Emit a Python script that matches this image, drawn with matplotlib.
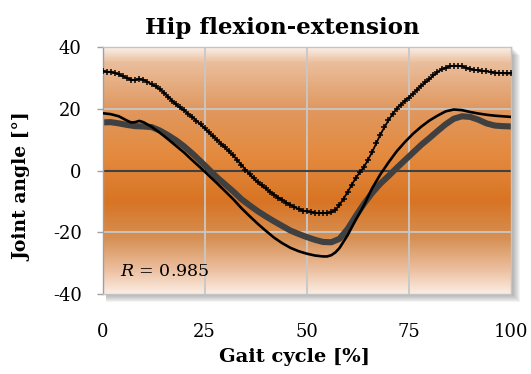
import numpy as np
import matplotlib
matplotlib.use("Agg")
import matplotlib.pyplot as plt
from matplotlib.patches import Rectangle

# ---------------- data ----------------
x_plus = list(range(0, 101))
y_plus = [32.2, 32.1, 32.0, 31.7, 31.2, 30.6, 30.0, 29.5, 29.4, 29.7,
          29.5, 28.8, 28.0, 27.3, 26.5, 25.3, 24.0, 22.7, 21.5, 20.5,
          19.5, 18.4, 17.3, 16.1, 15.0, 13.8, 12.5, 11.2, 10.0, 8.7,
          7.5, 6.2, 4.9, 3.4, 1.8, 0.3, -1.2, -2.5, -3.8, -4.8,
          -5.8, -6.9, -7.9, -8.8, -9.6, -10.4, -11.2, -11.9, -12.5, -13.0,
          -13.3, -13.5, -13.7, -13.8, -13.8, -13.8, -13.6, -12.8, -11.2, -9.2,
          -7.0, -4.7, -2.4, -0.6, 1.1, 3.5, 6.0, 8.8, 11.6, 14.0,
          16.3, 18.3, 20.0, 21.3, 22.5, 23.7, 24.9, 26.2, 27.5, 28.6,
          29.7, 30.9, 32.0, 32.8, 33.4, 33.8, 34.0, 34.0, 33.8, 33.4,
          33.0, 32.7, 32.5, 32.3, 32.2, 32.0, 31.8, 31.7, 31.6, 31.5, 31.5]

x_black = [0, 2, 4, 6, 7, 8, 9, 10, 12, 14, 16, 18, 20, 22, 24, 26, 28, 30,
           32, 34, 36, 38, 40, 42, 44, 46, 48, 50, 52, 54, 55, 56, 57, 58,
           60, 62, 64, 66, 68, 70, 72, 74, 76, 78, 80, 82, 84, 86, 88, 90,
           92, 94, 96, 98, 100]
y_black = [18.6, 18.3, 17.6, 16.2, 15.6, 15.7, 16.1, 15.7, 14.2, 12.3, 10.2,
           8.0, 5.8, 3.3, 0.9, -1.6, -4.1, -6.7, -9.3, -12.2, -14.8, -17.3,
           -19.6, -21.8, -23.6, -25.1, -26.2, -27.0, -27.6, -27.9, -27.9,
           -27.5, -26.6, -25.2, -21.0, -16.0, -11.3, -5.8, -1.3, 2.6, 6.2,
           9.2, 11.9, 14.2, 16.2, 17.8, 19.2, 19.8, 19.6, 19.0, 18.5, 18.1,
           17.8, 17.6, 17.4]

x_gray = [0, 2, 4, 6, 8, 10, 12, 14, 16, 18, 20, 22, 24, 26, 28, 30, 32, 34,
          36, 38, 40, 42, 44, 46, 48, 50, 52, 54, 56, 58, 60, 62, 64, 66, 68,
          70, 72, 74, 76, 78, 80, 82, 84, 86, 88, 90, 92, 94, 96, 98, 100]
y_gray = [15.6, 15.7, 15.3, 14.8, 14.4, 14.3, 14.1, 13.0, 11.5, 9.8, 7.8,
          5.5, 3.0, 0.4, -2.2, -4.5, -6.8, -9.3, -11.3, -13.2, -14.9, -16.5,
          -18.0, -19.5, -20.6, -21.6, -22.5, -23.2, -23.3, -22.2, -19.0,
          -14.8, -10.8, -7.3, -4.3, -1.8, 0.8, 3.3, 5.8, 8.3, 10.5, 12.8,
          15.0, 16.8, 17.6, 17.4, 16.5, 15.3, 14.6, 14.4, 14.3]

x_ticks = [0, 25, 50, 75, 100]
y_ticks = [-40, -20, 0, 20, 40]
title = "Hip flexion-extension"
xlabel = "Gait cycle [%]"
ylabel = "Joint angle [°]"
r_text = r"$\mathit{R}$ = 0.985"

# ---------------- figure ----------------
plt.rcParams['font.family'] = ['DejaVu Serif']
plt.rcParams['mathtext.fontset'] = 'dejavuserif'
plt.rcParams['axes.unicode_minus'] = False

W, H = 531, 374
fig = plt.figure(figsize=(W / 100, H / 100), dpi=100)
L, R_, T, B = 102.5, 511.0, 47.3, 293.7
ax = fig.add_axes([L / W, 1 - B / H, (R_ - L) / W, (B - T) / H])

# drop shadow (right / bottom)
for i in range(8):
    off = 1 + i
    fig.patches.append(Rectangle(((L + 3) / W, (H - B - off) / H),
                                 (R_ - L + off - 2) / W, (B - T) / H,
                                 transform=fig.transFigure, facecolor='#606060',
                                 alpha=0.07, edgecolor='none', zorder=-5))

# gradient background
stops = [(40, (251, 240, 232)), (35, (234, 190, 156)), (20, (224, 152, 96)),
         (5, (228, 138, 62)), (-10, (216, 116, 36)), (-22, (214, 144, 84)),
         (-32, (236, 190, 158)), (-40, (251, 238, 228))]
ys = np.linspace(40, -40, 400)
sv = [s[0] for s in stops][::-1]
cols = np.array([s[1] for s in stops][::-1]) / 255.0
img = np.stack([np.interp(ys, sv, cols[:, k]) for k in range(3)], axis=-1)
img = np.repeat(img[:, None, :], 2, axis=1)
ax.imshow(img, extent=[0, 100, -40, 40], aspect='auto', zorder=0,
          interpolation='bilinear')

ax.set_xlim(0, 100)
ax.set_ylim(-40, 40)

for gx in [25, 50, 75]:
    ax.axvline(gx, color='#c8c8c8', lw=1.3, zorder=1)
for gy in [20, -20]:
    ax.axhline(gy, color='#c8c8c8', lw=1.3, zorder=1)
ax.axhline(0, color='#404040', lw=1.5, zorder=1)

ax.plot(x_gray, y_gray, color='#404040', lw=4.4, zorder=2,
        solid_capstyle='round', solid_joinstyle='round')
ax.plot(x_black, y_black, color='black', lw=1.9, zorder=3,
        solid_joinstyle='round')
ax.plot(x_plus, y_plus, color='black', lw=1.3, marker='+', ms=4.5, mew=1.1,
        zorder=4)

ax.text(4.3, -32.7, r_text, fontsize=12.5, va='center', ha='left', zorder=5)

ax.set_xticks(x_ticks)
ax.set_yticks(y_ticks)
ax.tick_params(axis='x', length=0, pad=21, labelsize=13)
ax.tick_params(axis='y', length=4, width=1, color='#a0a0a0', pad=11,
               labelsize=13)
for s in ax.spines.values():
    s.set_color('#c4c4c4')
    s.set_linewidth(1)
ax.spines['left'].set_color('#a0a0a0')

fig.text(282 / W, 1 - 34 / H, title, ha='center', va='baseline',
         fontsize=16.5, fontweight='bold')
fig.text(294.5 / W, 1 - 357 / H, xlabel, ha='center', va='center',
         fontsize=14, fontweight='bold')
fig.text(22 / W, 1 - 186.5 / H, ylabel, ha='center', va='center',
         fontsize=13.5, fontweight='bold', rotation=90)

fig.savefig('out.png', dpi=100)
